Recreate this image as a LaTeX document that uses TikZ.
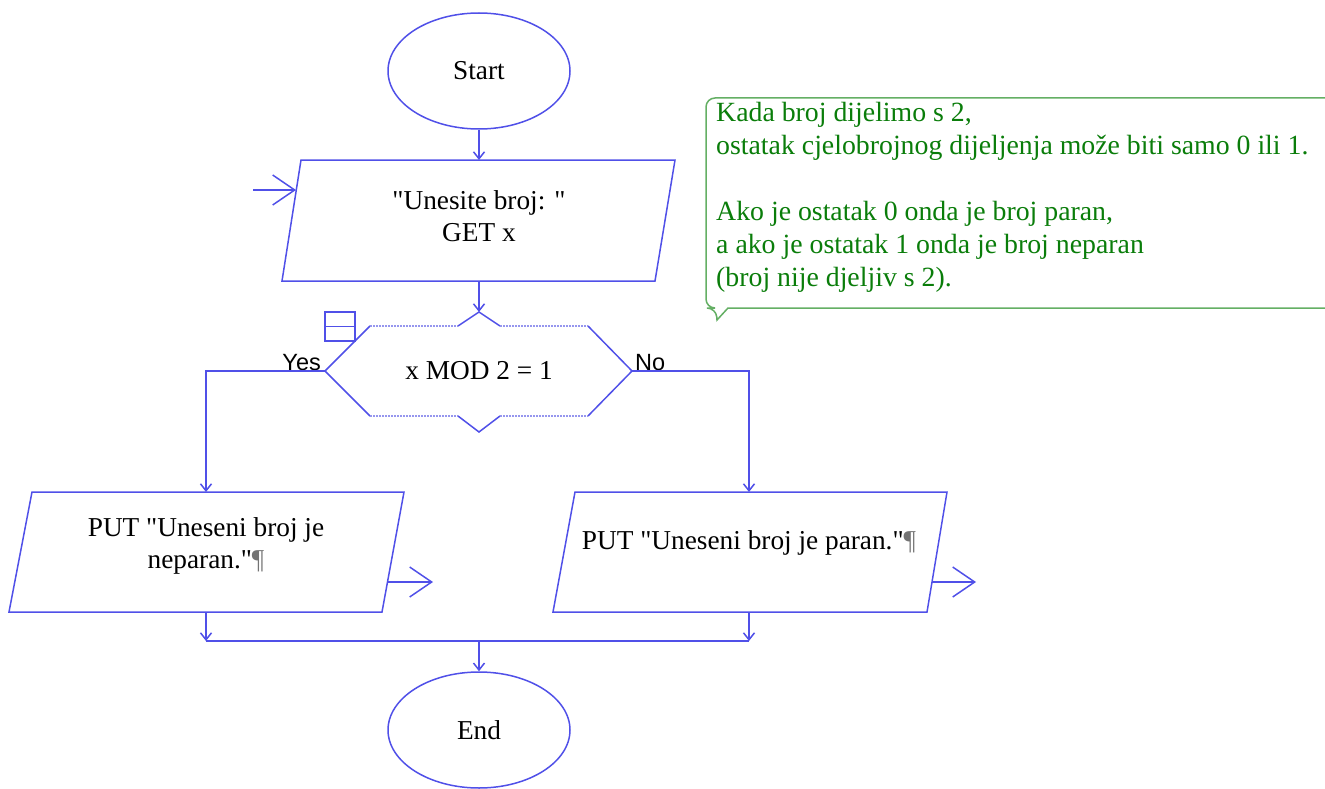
\documentclass[tikz,border=0pt]{standalone}
\usepackage{fontspec}
% no TeX ligature mapping, so " stays a straight double quote
\setmainfont{Liberation Serif}[Ligatures=TeXOff]
\newfontfamily\labelfont{Liberation Sans}
\usetikzlibrary{shapes.geometric,arrows.meta}
\definecolor{flowblue}{RGB}{80,80,232}
\definecolor{dotblue}{RGB}{150,150,238}
\definecolor{notegreen}{RGB}{10,125,10}
\definecolor{noteframe}{RGB}{100,175,100}
\newcommand{\pilcrow}{\textcolor{black!55}{¶}}
\begin{document}
\begin{tikzpicture}[x=1pt,y=-1pt,
  txt/.style={font=\fontsize{27.3}{32}\selectfont, align=center, inner sep=0pt},
  term/.style={ellipse, draw=flowblue, line width=1.5pt, minimum width=182pt,
    minimum height=116pt, inner sep=0pt, font=\fontsize{27.3}{32}\selectfont},
  outline/.style={draw=flowblue, line width=1.5pt},
  flow/.style={draw=flowblue, line width=1.5pt,
    -{Straight Barb[length=7pt,width=11pt]}},
  side/.style={draw=flowblue, line width=1.5pt,
    -{Straight Barb[length=22pt,width=30pt]}},
  dots/.style={draw=dotblue, line width=1.3pt, dash pattern=on 1.5pt off 1.5pt},
  lbl/.style={font=\labelfont\fontsize{23.5}{25}\selectfont, inner sep=0pt},
  note/.style={draw=noteframe, line width=1.5pt},
  notetxt/.style={font=\fontsize{27.8}{33}\selectfont, align=left, inner sep=0pt,
    text=notegreen}
]
\useasboundingbox (0,0) rectangle (1325,789);

% terminals
\node[term] (start) at (479,71) {Start};
\node[term] (end) at (479,730) {End};

% input block
\coordinate (in-tl) at (301,160);
\coordinate (in-tr) at (675,160);
\coordinate (in-br) at (655,281);
\coordinate (in-bl) at (282,281);
\coordinate (in-top) at (479,160);
\coordinate (in-bot) at (479,281);
\draw[outline] (in-tl) -- (in-tr) -- (in-br) -- (in-bl) -- cycle;
\node[txt] (in-txt) at (479,216) {"Unesite broj: "\\GET x};
\coordinate (in-src) at (253,190);
\coordinate (in-dst) at (296,190);
\draw[side] (in-src) -- (in-dst);

% decision
\coordinate (d-l) at (325,371);
\coordinate (d-r) at (632,371);
\coordinate (d-tl) at (370,326);
\coordinate (d-tr) at (588,326);
\coordinate (d-bl) at (370,416);
\coordinate (d-br) at (588,416);
\coordinate (d-n1) at (458,326);
\coordinate (d-top) at (479,312);
\coordinate (d-n2) at (500,326);
\coordinate (d-s1) at (458,416);
\coordinate (d-bot) at (479,432);
\coordinate (d-s2) at (500,416);
\draw[outline] (d-tl) -- (d-l) -- (d-bl);
\draw[outline] (d-tr) -- (d-r) -- (d-br);
\draw[outline] (d-n1) -- (d-top) -- (d-n2);
\draw[outline] (d-s1) -- (d-bot) -- (d-s2);
\draw[dots] (d-tl) -- (d-n1) (d-n2) -- (d-tr) (d-bl) -- (d-s1) (d-s2) -- (d-br);
\node[txt] (cond) at (479,371) {x MOD 2 = 1};
\draw[outline, line width=1.2pt] (325,312) rectangle (355,341);
\draw[outline, line width=1.2pt] (325,326.5) -- (355,326.5);
\node[lbl, anchor=base east] (yes) at (321,370) {Yes};
\node[lbl, anchor=base west] (no) at (635,370) {No};

% output blocks
\coordinate (ol-tl) at (32,492);
\coordinate (ol-tr) at (404,492);
\coordinate (ol-br) at (382,612);
\coordinate (ol-bl) at (9,612);
\coordinate (ol-top) at (206,492);
\coordinate (ol-bot) at (206,612);
\draw[outline] (ol-tl) -- (ol-tr) -- (ol-br) -- (ol-bl) -- cycle;
\node[txt] (ol-txt) at (206,546) {PUT "Uneseni broj je\\neparan."\pilcrow};
\coordinate (ol-src) at (387.5,582);
\coordinate (ol-dst) at (433,582);
\draw[side] (ol-src) -- (ol-dst);

\coordinate (or-tl) at (575,492);
\coordinate (or-tr) at (947,492);
\coordinate (or-br) at (927,612);
\coordinate (or-bl) at (553,612);
\coordinate (or-top) at (749,492);
\coordinate (or-bot) at (749,612);
\draw[outline] (or-tl) -- (or-tr) -- (or-br) -- (or-bl) -- cycle;
\node[txt] (or-txt) at (749,543) {PUT "Uneseni broj je paran."\pilcrow};
\coordinate (or-src) at (932,582);
\coordinate (or-dst) at (976,582);
\draw[side] (or-src) -- (or-dst);

% connectors
\draw[flow] (start) -- (in-top);
\draw[flow] (in-bot) -- (d-top);
\coordinate (yes-turn) at (206,371);
\coordinate (no-turn) at (749,371);
\draw[flow] (d-l) -- (yes-turn) -- (ol-top);
\draw[flow] (d-r) -- (no-turn) -- (or-top);
\coordinate (join-l) at (206,641);
\coordinate (join-r) at (749,641);
\coordinate (join-m) at (479,641);
\draw[flow] (ol-bot) -- (join-l);
\draw[flow] (or-bot) -- (join-r);
\draw[outline] (join-l) -- (join-r);
\draw[flow] (join-m) -- (end);

% comment callout
\draw[note, rounded corners=9pt] (1335,98) -- (706,98) -- (706,308) -- (716,308)
  [sharp corners] -- (717,320) -- (728,308) -- (1335,308);
\node[notetxt, anchor=north west] (note) at (716,102)
  {Kada broj dijelimo s 2,\\ostatak cjelobrojnog dijeljenja može biti samo 0 ili 1.\\[33pt]Ako je ostatak 0 onda je broj paran,\\a ako je ostatak 1 onda je broj neparan\\(broj nije djeljiv s 2).};
\end{tikzpicture}
\end{document}
